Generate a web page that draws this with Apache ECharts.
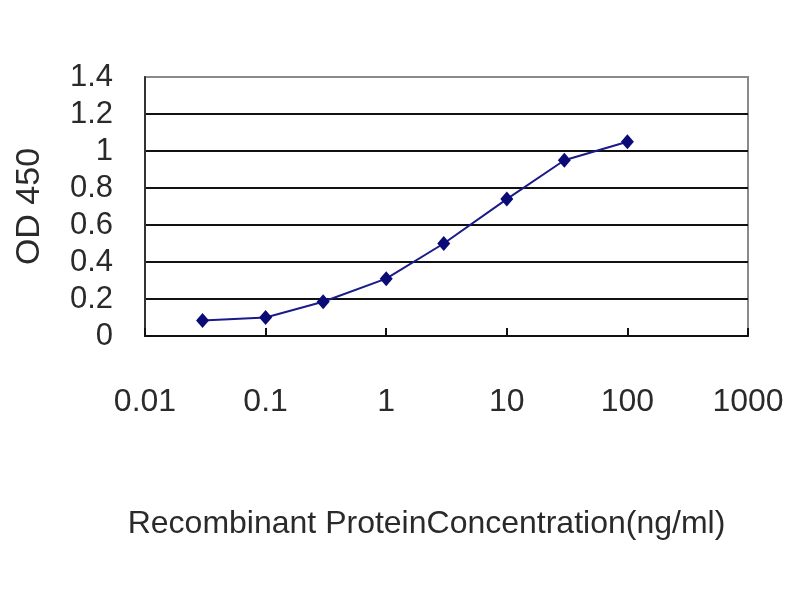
<!DOCTYPE html>
<html lang="en">
<head>
    <meta charset="UTF-8">
    <title>OD 450</title>
    <script src="https://cdn.jsdelivr.net/npm/echarts@6/dist/echarts.min.js"></script>
    <style>
        html, body { margin: 0; padding: 0; background: #fff; }
    </style>
</head>
<body>
<div id="main" style="width: 800px;height: 600px"></div>

<script type="text/javascript">
    // concentration (ng/ml) and measured OD 450
    var concentration = [0.03, 0.1, 0.3, 1, 3, 10, 30, 100];
    var od450 = [0.084, 0.10, 0.185, 0.31, 0.50, 0.74, 0.95, 1.05];
    var xTickLabels = ['0.01', '0.1', '1', '10', '100', '1000'];

    var points = concentration.map(function (c, i) { return [c, od450[i]]; });

    var myChart = echarts.init(document.getElementById('main'));
    var font = 'Liberation Sans';

    option = {
        animation: false,
        grid: {
            left: 145,
            right: 52,
            top: 77,
            bottom: 264,
            show: true,
            borderColor: '#8a8a8a',
            borderWidth: 2
        },
        xAxis: {
            type: 'log',
            logBase: 10,
            min: 0.01,
            max: 1000,
            name: 'Recombinant ProteinConcentration(ng/ml)',
            nameLocation: 'middle',
            nameGap: 172,
            nameTextStyle: {
                fontFamily: font,
                fontSize: 32,
                color: '#2a2a2a',
                padding: [0, 40, 0, 0]
            },
            axisLine: { show: true, lineStyle: { color: '#111', width: 2 } },
            axisTick: { show: true, inside: true, length: 8, lineStyle: { color: '#111', width: 2 } },
            axisLabel: {
                margin: 50,
                fontFamily: font,
                fontSize: 32,
                color: '#2a2a2a',
                formatter: function (v) {
                    return xTickLabels[Math.round(Math.log10(v)) + 2];
                }
            },
            splitLine: { show: false }
        },
        yAxis: {
            type: 'value',
            min: 0,
            max: 1.4,
            interval: 0.2,
            name: 'OD 450',
            nameLocation: 'middle',
            nameGap: 98,
            nameTextStyle: {
                fontFamily: font,
                fontSize: 34,
                color: '#2a2a2a'
            },
            axisLine: { show: true, lineStyle: { color: '#333', width: 2 } },
            axisTick: { show: false },
            axisLabel: {
                margin: 32,
                fontFamily: font,
                fontSize: 31,
                color: '#2a2a2a'
            },
            splitLine: {
                show: true,
                showMaxLine: false,
                lineStyle: { color: '#111', width: 2 }
            }
        },
        series: [{
            name: 'OD 450',
            type: 'line',
            data: points,
            symbol: 'diamond',
            symbolSize: [13, 15],
            itemStyle: { color: '#0b0b78' },
            lineStyle: { color: '#1a1a8a', width: 2 }
        }]
    };

    myChart.setOption(option);
</script>
</body>
</html>
